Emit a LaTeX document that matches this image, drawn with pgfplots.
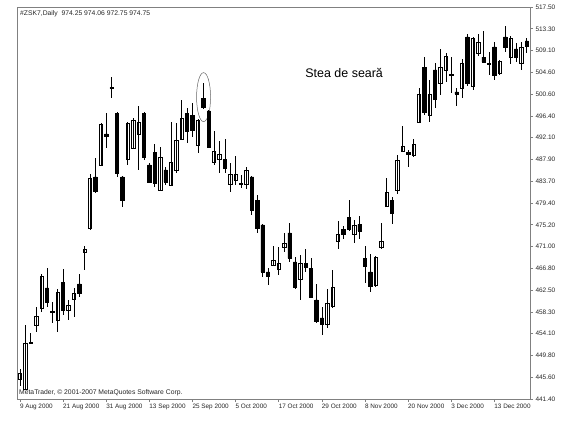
\documentclass[border=0pt]{standalone}
\usepackage{pgfplots}
\pgfplotsset{compat=1.18}
\usepackage{pgfplotstable}
\usepackage{fontspec}
\setmainfont{Liberation Sans}

\pgfplotstableread{
i o h l c
0 445.28 447.23 443.93 446.45
1 443.34 455.77 443.15 452.27
2 452.18 454.21 452.08 452.37
3 455.77 459.26 454.41 457.51
4 459.07 465.67 458.29 465.28
5 462.95 466.83 459.26 460.23
6 458.39 460.23 456.16 458.19
7 456.74 462.76 454.41 462.17
8 464.11 466.64 457.71 458.68
9 458.68 460.62 456.74 459.65
10 460.81 462.95 457.32 461.98
11 463.73 465.67 461.20 461.98
12 469.94 471.10 466.44 470.52
13 474.60 485.08 474.21 484.30
14 484.50 488.19 481.39 481.78
15 486.83 494.98 486.63 494.79
16 492.85 496.92 490.13 492.46
17 501.85 503.91 499.83 501.70
18 496.92 497.12 484.50 485.28
19 484.50 484.70 478.67 480.03
20 487.99 495.18 486.83 494.98
21 490.13 495.95 490.00 495.56
22 492.85 498.28 485.86 495.18
23 496.92 497.12 487.80 488.38
24 486.83 487.22 483.33 483.53
25 489.35 490.90 482.56 483.33
26 481.97 490.32 481.78 488.38
27 485.86 486.44 482.95 483.53
28 482.95 495.18 482.75 487.41
29 485.86 494.98 485.28 491.68
30 491.88 499.45 491.70 495.95
31 496.92 497.89 491.10 493.43
32 496.53 498.86 492.26 493.62
33 490.71 495.75 489.16 495.56
34 499.83 502.75 497.70 498.09
35 497.31 497.50 490.13 490.32
36 487.41 493.43 486.83 489.55
37 487.99 491.49 485.28 488.96
38 487.99 491.88 485.28 486.25
39 483.14 487.22 481.59 485.08
40 483.92 488.58 482.95 485.08
41 483.10 484.89 482.36 483.20
42 483.14 486.44 482.17 485.86
43 484.50 484.70 477.12 478.09
44 480.03 481.00 473.63 474.60
45 475.18 475.37 465.09 466.06
46 466.06 466.83 463.53 465.28
47 467.42 471.10 467.22 468.39
48 466.64 470.91 465.47 467.80
49 470.91 473.63 469.94 471.69
50 473.63 475.57 468.00 468.77
51 468.00 468.97 462.76 463.14
52 464.70 469.36 460.62 467.80
53 467.80 470.52 466.06 467.03
54 466.83 468.77 461.01 461.20
55 460.62 463.73 456.16 456.54
56 457.13 459.26 453.83 455.96
57 455.96 462.76 455.18 460.04
58 459.46 466.44 459.07 463.14
59 472.07 475.96 470.52 473.43
60 474.40 474.99 472.46 473.43
61 476.73 480.03 474.02 474.40
62 473.43 476.15 471.69 475.18
63 475.37 476.93 472.46 474.02
64 468.77 471.10 463.92 467.22
65 466.06 469.55 462.17 463.34
66 463.53 469.16 463.14 468.97
67 470.91 475.57 470.52 472.07
68 478.87 484.30 478.67 481.59
69 480.03 480.62 475.37 477.51
70 481.97 488.77 481.20 487.80
71 489.55 494.40 489.35 490.52
72 489.35 489.74 486.44 488.96
73 488.77 491.88 488.38 490.90
74 495.18 501.78 495.00 500.61
75 505.85 507.79 496.53 497.12
76 496.53 503.33 495.18 500.61
77 505.27 506.63 497.89 499.64
78 502.75 509.35 500.42 505.85
79 505.27 508.57 502.94 507.99
80 504.25 507.79 500.81 504.35
81 501.00 501.78 498.28 500.61
82 501.78 507.41 499.83 506.63
83 511.68 512.26 502.16 502.75
84 502.16 511.68 501.39 511.48
85 508.57 512.26 507.99 510.71
86 507.79 512.84 506.63 506.82
87 506.40 508.76 504.30 506.48
88 509.74 510.71 503.33 504.30
89 504.69 507.21 504.30 507.02
90 511.68 513.81 508.76 509.74
91 507.79 511.87 506.44 511.48
92 509.35 510.51 506.82 507.79
93 506.63 510.71 505.27 509.74
94 510.90 511.48 508.57 509.93
}\candles

\begin{document}
\begin{tikzpicture}
\begin{axis}[
  name=ax,
  width=513bp, height=392bp, scale only axis,
  xmin=-0.56, xmax=94.6, ymin=441.4, ymax=517.5,
  enlargelimits=false,
  ybar stacked, bar width=3.4bp,
  axis on top,
  axis line style={draw=black!50, line width=0.8bp},
  tick align=outside, major tick length=3bp,
  tick style={draw=black!50, line width=0.6bp},
  xtick pos=left, ytick pos=right, yticklabel pos=right,
  xtick={0,8,16,24,32,40,48,56,64,72,80,88},
  xticklabels={9 Aug 2000, 21 Aug 2000, 31 Aug 2000, 13 Sep 2000, 25 Sep 2000, 5 Oct 2000, 17 Oct 2000, 29 Oct 2000, 8 Nov 2000, 20 Nov 2000, 3 Dec 2000, 13 Dec 2000},
  ytick={441.40,445.63,449.86,454.08,458.31,462.54,466.77,470.99,475.22,479.45,483.68,487.91,492.13,496.36,500.59,504.82,509.04,513.27,517.50},
  yticklabels={441.40,445.60,449.80,454.10,458.30,462.50,466.80,471.00,475.20,479.40,483.70,487.90,492.10,496.40,500.60,504.60,509.10,513.30,517.50},
  xticklabel style={anchor=north west, xshift=-3.5bp, yshift=1bp, font=\fontsize{6.4}{7}\selectfont, text=black!85},
  yticklabel style={anchor=west, xshift=-1bp, font=\fontsize{6.5}{7}\selectfont, text=black!85},
]
\addplot[draw=none, fill=none, forget plot,
  error bars/.cd, y dir=both, y explicit, error mark=none,
  error bar style={draw=black, line width=0.7bp}]
  table[x=i, y expr={min(\thisrow{o},\thisrow{c})},
    y error plus expr={\thisrow{h}-min(\thisrow{o},\thisrow{c})},
    y error minus expr={min(\thisrow{o},\thisrow{c})-\thisrow{l}}] {\candles};
\addplot[fill=white, draw=black, line width=0.7bp]
  table[x=i, y expr={max(\thisrow{c}-\thisrow{o},0)}] {\candles};
\addplot[fill=black, draw=black, line width=0.7bp]
  table[x=i, y expr={max(\thisrow{o}-\thisrow{c},0)}] {\candles};

\node[anchor=north west, inner sep=0, font=\fontsize{6.8}{8}\selectfont, text=black!85]
  at ([xshift=3bp,yshift=-3.5bp]rel axis cs:0,1) {\#ZSK7,Daily\ \ 974.25 974.06 972.75 974.75};
\node[anchor=south west, inner sep=0, font=\fontsize{6.8}{8}\selectfont, text=black!85]
  at ([xshift=2bp,yshift=2.5bp]rel axis cs:0,0) {MetaTrader, © 2001-2007 MetaQuotes Software Corp.};
\node[anchor=west, inner sep=0, font=\fontsize{12.5}{14}\selectfont]
  at (axis cs:52.9,504.69) {Stea de seară};
\draw[black!60, line width=0.5bp] (axis cs:34.05,500.0) ellipse [x radius=7bp, y radius=24.5bp];
\end{axis}
\pgfresetboundingbox
\path[use as bounding box] ([shift={(-17bp,-25bp)}]ax.south west) rectangle ([shift={(554bp,399bp)}]ax.south west);
\end{tikzpicture}
\end{document}
